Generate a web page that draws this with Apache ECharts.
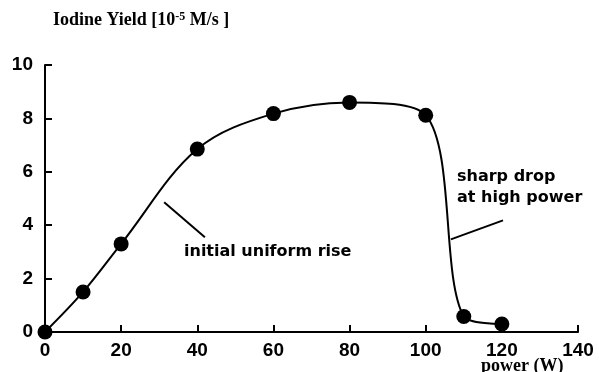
<!DOCTYPE html>
<html><head><meta charset="utf-8">
<script src="https://cdn.jsdelivr.net/npm/echarts@6/dist/echarts.min.js"></script>
<style>html,body{margin:0;padding:0;background:#fff}#c{width:599px;height:372px}</style>
</head><body><div id="c"></div>
<script>
const powerW = [0, 10, 20, 40, 60, 80, 100, 110, 120];
const iodineYield = [0, 1.5, 3.3, 6.85, 8.18, 8.6, 8.12, 0.58, 0.3];
const xTicks = [0, 20, 40, 60, 80, 100, 120, 140];
const yTicks = [0, 2, 4, 6, 8, 10];
const riseLeader = [[31.3, 4.86], [42, 3.55]];
const dropLeader = [[106.6, 3.47], [120.3, 4.18]];

const data = powerW.map((x, i) => [x, iodineYield[i]]);
const chart = echarts.init(document.getElementById('c'));
const axisFont = {fontFamily: 'Liberation Sans, Arial', fontWeight: 'bold', fontSize: 19, color: '#000'};
chart.setOption({
  animation: false,
  grid: {left: 45, right: 21, top: 65, bottom: 40},
  xAxis: {type: 'value', min: 0, max: 140, interval: 20,
    axisLine: {lineStyle: {color: '#000', width: 2}},
    axisTick: {inside: true, length: 7, lineStyle: {color: '#000', width: 2}},
    splitLine: {show: false},
    axisLabel: Object.assign({margin: 9}, axisFont)},
  yAxis: {type: 'value', min: 0, max: 10, interval: 2,
    axisLine: {show: true, lineStyle: {color: '#000', width: 2}},
    axisTick: {show: true, inside: true, length: 7, lineStyle: {color: '#000', width: 2}},
    splitLine: {show: false},
    axisLabel: Object.assign({margin: 12}, axisFont)},
  series: [
    {type: 'line', data: data, smooth: 0.35, showSymbol: false,
     lineStyle: {color: '#000', width: 2}, z: 2,
     markLine: {silent: true, symbol: 'none', label: {show: false},
       lineStyle: {color: '#000', width: 2, type: 'solid'},
       data: [
         [{coord: riseLeader[0]}, {coord: riseLeader[1]}],
         [{coord: dropLeader[0]}, {coord: dropLeader[1]}]
       ]}},
    {type: 'scatter', data: data, symbol: 'circle', symbolSize: 15,
     itemStyle: {color: '#000', opacity: 1}, z: 3}
  ],
  graphic: [
    {type: 'text', left: 53, top: 11, style: {
      text: '{t|Iodine Yield [10}{s|-5}{t| M/s ]}',
      rich: {t: {fontFamily: 'Liberation Serif, Times New Roman', fontWeight: 'bold', fontSize: 18, fill: '#000'},
             s: {fontFamily: 'Liberation Serif, Times New Roman', fontWeight: 'bold', fontSize: 12, fill: '#000', verticalAlign: 'top', padding: [0,0,6,0]}}}},
    {type: 'text', left: 184, top: 244, style: {text: 'initial uniform rise',
      font: 'bold 16px "DejaVu Sans"', fill: '#000'}},
    {type: 'text', left: 457, top: 166, style: {text: 'sharp drop\nat high power', lineHeight: 21,
      font: 'bold 16px "DejaVu Sans"', fill: '#000'}},
    {type: 'text', left: 481, top: 357, style: {text: 'power (W)',
      font: 'bold 18px "Liberation Serif", "Times New Roman"', fill: '#000'}}
  ]
});
</script></body></html>
